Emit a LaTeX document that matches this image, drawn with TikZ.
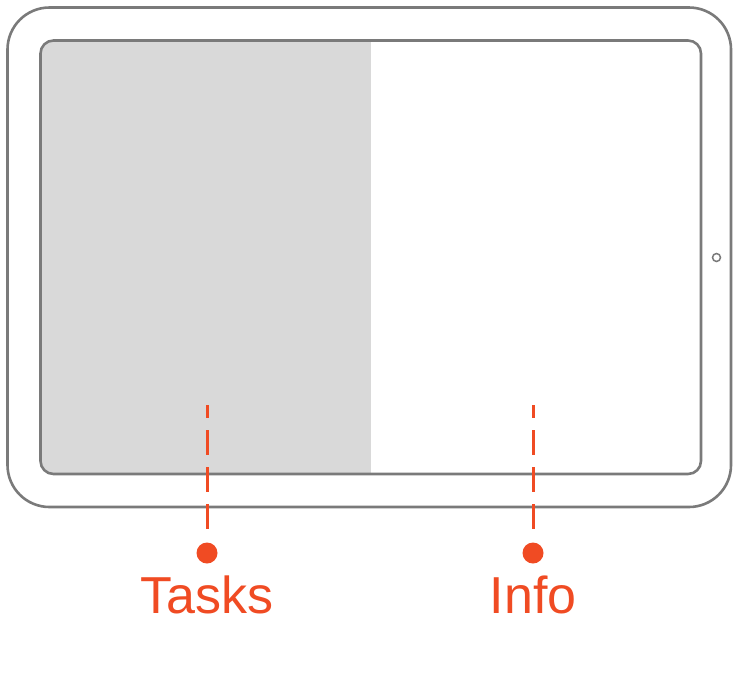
\documentclass[tikz,border=0pt]{standalone}
\usepackage{fontspec}
\setmainfont{Liberation Sans}
\usepackage{tikz}
\usetikzlibrary{positioning}
\definecolor{naranja}{RGB}{240,75,35}
\definecolor{grisMarco}{RGB}{122,122,122}
\definecolor{grisPanel}{RGB}{217,217,217}
\tikzstyle{marco}   =[draw=grisMarco, line width=2.6pt]
\tikzstyle{guia}    =[naranja, line width=3pt, shorten >=13.5pt,
                      dash pattern=on 13pt off 12pt on 25pt off 12pt on 25pt off 12pt on 25pt off 40pt]
\tikzstyle{punto}   =[circle, fill=naranja, minimum size=21pt,
                      inner sep=0pt, outer sep=0pt]
\tikzstyle{etiqueta}=[text=naranja, font=\fontsize{52}{62}\selectfont,
                      anchor=base, inner sep=0pt]
\begin{document}
\begin{tikzpicture}[x=1pt,y=-1pt]
    \useasboundingbox (0,0) rectangle (738,691);

    % tableta
    \draw [marco, rounded corners=42pt] (7.5,7.5) rectangle (731,507);
    \begin{scope}
        \clip [rounded corners=13pt] (40.5,40.5) rectangle (701,474);
        \fill [grisPanel] (40,40) rectangle (371,474);
    \end{scope}
    \draw [marco, rounded corners=13pt] (40.5,40.5) rectangle (701,474);
    \draw (716.5,257.5) node (camara) [circle, draw=grisMarco, line width=1.5pt,
        minimum size=8pt, inner sep=0pt] {};

    % etiquetas
    \draw (207,405) coordinate (a1);
    \draw (207,553) node (p1) [punto] {};
    \draw (207,613) node (tasks) [etiqueta] {Tasks};
    \draw (533,405) coordinate (a2);
    \draw (533,553) node (p2) [punto] {};
    \draw (533,613) node (info) [etiqueta] {Info};

    \foreach \i/\j in {a1/p1,a2/p2}
    \draw [guia] (\i) to (\j);

\end{tikzpicture}
\end{document}
